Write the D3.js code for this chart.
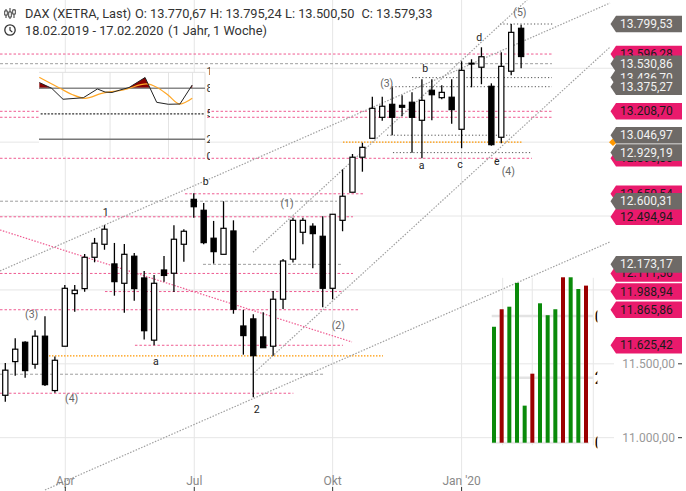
<!DOCTYPE html>
<html><head><meta charset="utf-8">
<script src="https://cdn.jsdelivr.net/npm/d3@7"></script>
<style>body{margin:0;background:#fff}svg{display:block;font-family:Roboto,"Liberation Sans",Arial,sans-serif}</style>
</head><body><svg id="c" width="686" height="491"></svg>
<script>
// ---------- DATA ----------
const opens  = [11287,11515,11646,11497,11687,11319,11619,11975,12009,12221,12309,12176,12045,12228,12081,11660,12135,12113,12309,12613,12539,12350,12241,12399,11756,11804,11682,11619,11937,12208,12390,12431,12363,12011,12471,12661,12898,13026,13168,13256,13249,13270,13148,13351,13301,13304,13087,13529,13507,13378,13033,13480,13770.67];
const highs  = [11506,11673,11653,11727,11822,11549,12034,12034,12243,12352,12438,12318,12311,12250,12128,12101,12230,12438,12411,12654,12588,12467,12600,12471,11865,11835,11849,11993,12210,12489,12489,12451,12498,12512,12816,12920,12996,13308,13308,13371,13317,13337,13425,13425,13385,13425,13547,13561,13642,13398,13608,13799.53,13795.24];
const lows   = [11244,11420,11406,11467,11350,11305,11619,11853,11988,12187,12272,11961,11846,11927,11664,11626,12056,11986,12191,12489,12309,12178,12241,11839,11562,11274,11609,11555,11871,12185,12309,12147,11883,11937,12397,12661,12800,13026,13145,13046,13175,12929,12891,13148,13290,13125,12959,13371,13392,12976,12992,13452,13500.50];
const closes = [11457,11599,11454,11687,11359,11524,12011,11998,12221,12316,12411,12056,12241,12009,11724,12045,12098,12343,12397,12563,12320,12259,12417,11869,11691,11555,11609,11937,12196,12471,12471,12381,12011,12512,12634,12898,12965,13229,13243,13168,13236,13168,13283,13321,13337,13220,13486,13534,13578,12983,13513,13743,13579.33];

const xTickIdx    = [6.05, 19.05, 33.0, 46.0];
const xTickLabels = ["Apr", "Jul", "Okt", "Jan '20"];
const yGridVals   = [11000, 11500, 12000, 12500, 13000, 13500];
const yAxisVals   = [11500, 11000];

// level lines: price, type, from index, to index
const levelPrices = [13799.53,13596.28,13530.86,13436.70,13375.27,13208.70,13168.30,13046.97,13000.00,12929.19,12890.80,12650.54,12600.31,12494.94,12173.17,12111.56,11988.94,11865.86,11625.42,11554.00,11429.50,11300.80];
const levelTypes  = ["dot","pink","dash","dot","dot","pink","pink","dot","orange","dot","pink","pink","dash","pink","dash","pink","pink","pink","pink","orange","dash","pink"];
const levelFrom   = [49.87,-0.53,-0.53,41.0,38.98,-0.53,-0.53,38.48,34.04,39.08,-0.53,18.11,-0.53,-0.53,19.93,-0.53,10.05,-0.53,13.07,4.1,-0.53,-0.53];
const levelTo     = [55.21,55.11,55.11,55.11,55.11,55.11,55.11,50.88,52.09,53.09,53.09,36.06,33.44,35.05,34.04,35.05,34.04,35.76,34.04,38.07,32.06,29.04];

// trend lines: [index, price]
const trendFrom  = [[-0.534,12128.3],[24.97,12254.9],[25.1,11440],[4.0,10646],[-0.534,12405.7]];
const trendTo    = [[60.96,13941.6],[52.6,13961.9],[60.96,13643],[60.96,12325],[34.95,11647.8]];
const trendColor = ["gray","gray","gray","gray","pink"];

// wave labels
const waveText  = ["(3)","(4)","1","a","b","(1)","2","(2)","(3)","b","a","c","d","(5)","e","(4)"];
const waveIdx   = [2.66,6.69,10.12,15.19,20.2,28.4,25.34,33.57,38.45,42.34,41.98,45.84,47.78,51.88,49.54,50.71];
const wavePrice = [11837,11262,12525,11513,12732,12586,11193,11758,13394,13500,12841,12846,13710,13876,12868,12800];

// right labels
const pinkLabels = [13596.28,13208.70,12890.80,12650.54,12494.94,12111.56,11988.94,11865.86,11625.42];
const grayLabels = [13436.70,13799.53,13530.86,13375.27,13046.97,12929.19,12600.31,12173.17];
const markerPrice = [13000.00];

// inset oscillator
const oscBlackX = [0.2,7.65,14.46,26.7,35.2,39.8,44,48.8,54.2,63.9,70.9,77.9,84.9,92.3];
const oscBlackV = [86.8,80,67.1,68.9,79.2,75.6,75.1,78,80.9,92.7,63.5,61.2,61.5,83.9];
const oscOrangeX = [0.2,6.6,12.65,19.9,27.7,37.8,50.8,64.9,70.9,77.7,84.9,92.3];
const oscOrangeV = [92.9,86.2,80,72.7,68.2,74.1,78,85.1,81.2,72.1,61.5,68.2];
const oscLevels = [80, 50, 20];
const oscAxisText = ["100","80","50","20","0"];
const oscAxisVals = [100,80,50,20,0];
const oscGridX = [14.3, 42.8, 78, 92.5];

// bar panel
const barVals   = [68.2,78.5,80,94,21.8,40.6,82,75,78.5,97.3,97.3,90.4,92.4];
const barColors = ["g","r","g","g","g","r","g","g","g","r","g","g","r"];
const barGridV  = [74.5, 38.2];
const barAxisText = ["0","2","0"];
const barAxisVals = [74.5, 38.2, 0];

// header
const header1Text = ["DAX (XETRA, Last)","O: 13.770,67","H: 13.795,24","L: 13.500,50","C: 13.579,33"];
const header1X    = [25,135,210,285,361.5];
const header2Text = ["18.02.2019 - 17.02.2020","(1 Jahr, 1 Woche)"];
const header2X    = [25,168];

// ---------- DRAW ----------
const svg = d3.select("#c");
svg.append("rect").attr("width",686).attr("height",491).attr("fill","#fff");
const de = d3.formatLocale({decimal:",",thousands:".",grouping:[3],currency:["",""]});
const fmt = de.format(",.2f");

const x = d3.scaleLinear().domain([-0.534, 60.96]).range([0, 610]);
const y = d3.scaleLinear().domain([11000, 13799.53]).range([437.7, 24]);

const plot = svg.append("g");
plot.selectAll("line.vg").data(xTickIdx).join("line")
  .attr("x1",d=>x(d)).attr("x2",d=>x(d)).attr("y1",0).attr("y2",487)
  .attr("stroke","#e6e6e6").attr("stroke-width",1);
plot.selectAll("line.hg").data(yGridVals).join("line")
  .attr("x1",0).attr("x2",614).attr("y1",d=>y(d)).attr("y2",d=>y(d))
  .attr("stroke","#e6e6e6").attr("stroke-width",1);

const lvlStyle = {
  pink:{c:"#ef5b91",d:"2.5,2",w:1},
  dash:{c:"#9e9e9e",d:"3,2",w:1},
  dot:{c:"#555",d:"1.2,2.2",w:1},
  orange:{c:"#ff9800",d:"1.5,1.5",w:1.2}
};
plot.selectAll("line.lvl").data(levelPrices).join("line")
  .attr("x1",(d,i)=>x(levelFrom[i])).attr("x2",(d,i)=>x(levelTo[i]))
  .attr("y1",d=>y(d)).attr("y2",d=>y(d))
  .attr("stroke",(d,i)=>lvlStyle[levelTypes[i]].c)
  .attr("stroke-dasharray",(d,i)=>lvlStyle[levelTypes[i]].d)
  .attr("stroke-width",(d,i)=>lvlStyle[levelTypes[i]].w);

plot.selectAll("line.tr").data(trendFrom).join("line")
  .attr("x1",d=>x(d[0])).attr("y1",d=>y(d[1]))
  .attr("x2",(d,i)=>x(trendTo[i][0])).attr("y2",(d,i)=>y(trendTo[i][1]))
  .attr("stroke",(d,i)=>trendColor[i]==="pink"?"#ef5b91":"#a0a0a0")
  .attr("stroke-dasharray","1.5,1.5").attr("stroke-width",1.2);

const idx = d3.range(opens.length);
plot.selectAll("line.wick").data(idx).join("line")
  .attr("x1",i=>x(i)).attr("x2",i=>x(i))
  .attr("y1",i=>y(highs[i])).attr("y2",i=>y(lows[i]))
  .attr("stroke","#000").attr("stroke-width",1.3);
plot.selectAll("rect.body").data(idx).join("rect")
  .attr("x",i=>x(i)-2.6).attr("width",5.2)
  .attr("y",i=>y(Math.max(opens[i],closes[i])))
  .attr("height",i=>Math.max(0.8,Math.abs(y(opens[i])-y(closes[i]))))
  .attr("fill",i=>closes[i]>=opens[i]?"#fff":"#000")
  .attr("stroke","#000").attr("stroke-width",1.2);

plot.selectAll("text.wave").data(waveText).join("text")
  .attr("x",(d,i)=>x(waveIdx[i])).attr("y",(d,i)=>y(wavePrice[i]))
  .attr("text-anchor","middle").attr("dominant-baseline","central")
  .attr("font-size",10.5)
  .attr("fill",d=>d.startsWith("(")?"#666":"#222")
  .text(d=>d);

// ---------- inset ----------
const ix = d3.scaleLinear().domain([0,100]).range([39,205]);
const iy = d3.scaleLinear().domain([0,100]).range([156.3,71.3]);
const inset = svg.append("g");
inset.append("rect").attr("x",ix(0)).attr("y",iy(98.8)).attr("width",ix(100)-ix(0)).attr("height",iy(0)-iy(98.8)).attr("fill","#fff");
inset.selectAll("line.ig").data(oscGridX).join("line")
  .attr("x1",d=>ix(d)).attr("x2",d=>ix(d)).attr("y1",iy(98.8)).attr("y2",iy(0))
  .attr("stroke","#e4e4e4");
inset.append("line").attr("x1",ix(0)).attr("x2",ix(100)).attr("y1",iy(98.8)).attr("y2",iy(98.8)).attr("stroke","#e0e0e0");
inset.append("line").attr("x1",ix(100)).attr("x2",ix(100)).attr("y1",iy(98.8)).attr("y2",iy(0)).attr("stroke","#e0e0e0");
const blackPts = oscBlackX.map((d,i)=>[d,oscBlackV[i]]);
const orangePts = oscOrangeX.map((d,i)=>[d,oscOrangeV[i]]);
svg.append("clipPath").attr("id","above").append("rect")
  .attr("x",ix(0)).attr("y",iy(100)).attr("width",ix(100)-ix(0)).attr("height",iy(80)-iy(100));
inset.append("path").datum(blackPts)
  .attr("d",d3.area().x(d=>ix(d[0])).y0(iy(80)).y1(d=>iy(d[1])))
  .attr("fill","#8b0000").attr("clip-path","url(#above)");
inset.append("line").attr("x1",ix(0)).attr("x2",ix(100)).attr("y1",iy(oscLevels[0])).attr("y2",iy(oscLevels[0])).attr("stroke","#888").attr("stroke-width",1.6);
inset.append("line").attr("x1",ix(1)).attr("x2",ix(100)).attr("y1",iy(oscLevels[1])).attr("y2",iy(oscLevels[1])).attr("stroke","#333").attr("stroke-dasharray","2,1.5").attr("stroke-width",1.2);
inset.append("line").attr("x1",ix(0)).attr("x2",ix(100)).attr("y1",iy(oscLevels[2])).attr("y2",iy(oscLevels[2])).attr("stroke","#777").attr("stroke-width",1.6);
inset.append("path").datum(orangePts)
  .attr("d",d3.line().x(d=>ix(d[0])).y(d=>iy(d[1])).curve(d3.curveMonotoneX))
  .attr("fill","none").attr("stroke","#ffa726").attr("stroke-width",1.2);
inset.append("path").datum(blackPts)
  .attr("d",d3.line().x(d=>ix(d[0])).y(d=>iy(d[1])))
  .attr("fill","none").attr("stroke","#222").attr("stroke-width",1);
svg.append("clipPath").attr("id","oscax").append("rect")
  .attr("x",ix(100)).attr("y",60).attr("width",5).attr("height",110);
inset.append("g").attr("clip-path","url(#oscax)")
  .selectAll("text").data(oscAxisText).join("text")
  .attr("x",ix(100)+1.5).attr("y",(d,i)=>iy(oscAxisVals[i]))
  .attr("dominant-baseline","central").attr("font-size",11).attr("fill","#333").text(d=>d);

// ---------- bar panel ----------
const bx = d3.scaleLinear().domain([0,12]).range([494,586]);
const by = d3.scaleLinear().domain([0,100]).range([442.7,272.7]);
const bp = svg.append("g");
[1.13, 4.99, 12.95].forEach(v=>{
  bp.append("line").attr("x1",bx(v)).attr("x2",bx(v)).attr("y1",by(97)).attr("y2",by(-1.5)).attr("stroke","#e6e6e6");
});
bp.selectAll("line.bg").data(barGridV).join("line")
  .attr("x1",bx(-0.3)).attr("x2",bx(12.9)).attr("y1",d=>by(d)).attr("y2",d=>by(d))
  .attr("stroke","#e3e3e3").attr("stroke-width",2.5);
bp.append("line").attr("x1",bx(-0.3)).attr("x2",bx(12.4)).attr("y1",by(0)).attr("y2",by(0)).attr("stroke","#e8e8e8").attr("stroke-width",2);
bp.selectAll("rect").data(barVals).join("rect")
  .attr("x",(d,i)=>bx(i)-2).attr("width",4)
  .attr("y",d=>by(d)).attr("height",d=>by(0)-by(d))
  .attr("fill",(d,i)=>barColors[i]==="g"?"#0a8a0a":"#9b0000");
svg.append("clipPath").attr("id","barax").append("rect")
  .attr("x",bx(13.1)).attr("y",280).attr("width",3).attr("height",170);
bp.append("g").attr("clip-path","url(#barax)")
  .selectAll("text").data(barAxisText).join("text")
  .attr("x",bx(13.1)).attr("y",(d,i)=>by(barAxisVals[i])).attr("dominant-baseline","central")
  .attr("font-size",18).attr("fill","#111").text(d=>d);

// ---------- right axis ----------
const ax = svg.append("g");
ax.selectAll("text.yl").data(yAxisVals).join("text")
  .attr("x",675).attr("y",d=>y(d)).attr("text-anchor","end").attr("dominant-baseline","central")
  .attr("font-size",12).attr("fill","#999").text(d=>fmt(d));
ax.selectAll("line.yt").data(yAxisVals).join("line")
  .attr("x1",678).attr("x2",682).attr("y1",d=>y(d)).attr("y2",d=>y(d)).attr("stroke","#333");
ax.selectAll("path.mk").data(markerPrice).join("path")
  .attr("d",d=>{const yy=y(d);return `M613,${yy-3.8}L617,${yy}L613,${yy+3.8}L609,${yy}Z`;})
  .attr("fill","#ff9800");
const tagPath = yy=>`M610.5,${yy}L616,${yy-8.3}L682,${yy-8.3}L682,${yy+8.3}L616,${yy+8.3}Z`;
const pg = ax.selectAll("g.pl").data(pinkLabels).join("g");
pg.append("path").attr("d",d=>tagPath(y(d))).attr("fill","#e91a6c");
pg.append("text").attr("x",620).attr("y",d=>y(d)).attr("dominant-baseline","central")
  .attr("font-size",12).attr("fill","#1a1a1a").text(d=>fmt(d));
const gg = ax.selectAll("g.gl").data(grayLabels).join("g");
gg.append("path").attr("d",d=>tagPath(y(d))).attr("fill","#6e6a67");
gg.append("text").attr("x",620).attr("y",d=>y(d)).attr("dominant-baseline","central")
  .attr("font-size",12).attr("fill","#f2f2f2").text(d=>fmt(d));

// ---------- x axis ----------
svg.selectAll("text.xl").data(xTickLabels).join("text")
  .attr("x",(d,i)=>x(xTickIdx[i])).attr("y",485).attr("text-anchor","middle")
  .attr("font-size",12).attr("fill","#888").text(d=>d);
svg.selectAll("line.xt").data(xTickIdx).join("line")
  .attr("x1",d=>x(d)).attr("x2",d=>x(d)).attr("y1",487).attr("y2",491).attr("stroke","#333");

// ---------- header ----------
const hd = svg.append("g");
[[6,9,18,11,15],[10,8,19,12,17],[14,9,18,10,14]].forEach(c=>{
  hd.append("line").attr("x1",c[0]).attr("x2",c[0]).attr("y1",c[1]).attr("y2",c[2]).attr("stroke","#333").attr("stroke-width",1);
  hd.append("rect").attr("x",c[0]-1.3).attr("y",c[3]).attr("width",2.6).attr("height",c[4]-c[3]).attr("fill","#fff").attr("stroke","#333").attr("stroke-width",0.9);
});
hd.append("circle").attr("cx",10).attr("cy",30).attr("r",5.2).attr("fill","none").attr("stroke","#333").attr("stroke-width",1.3);
hd.append("path").attr("d","M10,27L10,30.3L12.3,32").attr("fill","none").attr("stroke","#333").attr("stroke-width",1.2);
hd.selectAll("text.h1").data(header1Text).join("text")
  .attr("x",(d,i)=>header1X[i]).attr("y",17.5).attr("font-size",12.8).attr("fill","#333").text(d=>d);
hd.selectAll("text.h2").data(header2Text).join("text")
  .attr("x",(d,i)=>header2X[i]).attr("y",34.5).attr("font-size",12.8).attr("fill","#333").text(d=>d);
</script></body></html>
